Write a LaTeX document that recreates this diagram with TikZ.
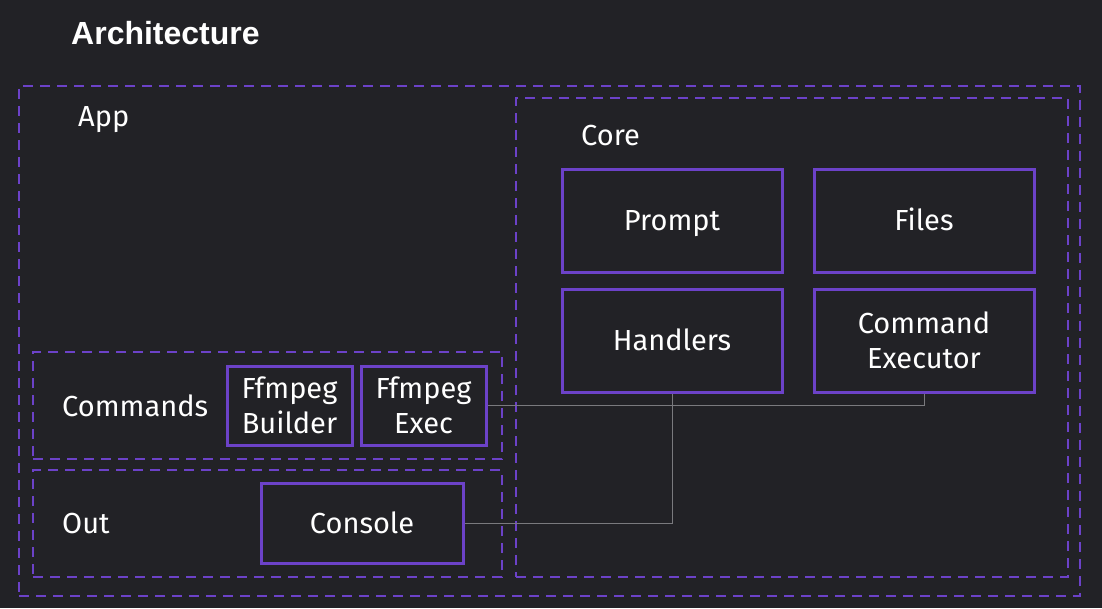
\documentclass[tikz,border=0pt]{standalone}
\usepackage{fontspec}
\setmainfont{Fira Sans}
\newfontfamily\titlefont{Liberation Sans}
\usetikzlibrary{positioning}
\definecolor{bgdark}{HTML}{222226}
\definecolor{boxpurple}{HTML}{6C42C8}
\definecolor{wiregray}{HTML}{7A7A7E}

\begin{document}
\begin{tikzpicture}[x=1pt,y=-1pt,
	groupnode/.style={rectangle,draw=boxpurple,line width=2pt,dash pattern=on 10pt off 7pt,inner sep=0pt},
	boxnode/.style={rectangle,draw=boxpurple,line width=3pt,inner sep=0pt,text=white,align=center,font=\fontsize{29}{35}\selectfont},
	onerow/.style={text height=26pt,text depth=6pt},
	labelnode/.style={anchor=base west,inner sep=0pt,text=white,font=\fontsize{29}{35}\selectfont},
	wire/.style={draw=wiregray,line width=1pt}]
	
	\fill[bgdark] (0,0) rectangle (1102,608);
	\useasboundingbox (0,0) rectangle (1102,608);
	
	\node [anchor=base west,inner sep=0pt,text=white,font=\titlefont\bfseries\fontsize{32}{36}\selectfont] (title) at (71, 44) {Architecture};
	
	% groups
	\node [groupnode, minimum width=1061pt, minimum height=510pt] (app) at (549.5, 341) {};
	\node [groupnode, minimum width=552pt, minimum height=479pt] (core) at (792, 337.5) {};
	\node [groupnode, minimum width=469pt, minimum height=107pt] (commands) at (267.5, 405.5) {};
	\node [groupnode, minimum width=469pt, minimum height=107pt] (out) at (267.5, 523.5) {};
	
	\node [labelnode] (applabel) at (78, 126) {App};
	\node [labelnode] (corelabel) at (581, 145) {Core};
	\node [labelnode] (commandslabel) at (62, 416) {Commands};
	\node [labelnode] (outlabel) at (62, 533) {Out};
	
	% core parts
	\node [boxnode, onerow, minimum width=220pt, minimum height=103pt] (prompt) at (672, 220.5) {Prompt};
	\node [boxnode, onerow, minimum width=220pt, minimum height=103pt] (files) at (924, 220.5) {Files};
	\node [boxnode, onerow, minimum width=220pt, minimum height=103pt] (handlers) at (672, 340.5) {Handlers};
	\node [boxnode, minimum width=220pt, minimum height=103pt] (cmdexec) at (924, 340.5) {Command\\Executor};
	
	% app parts
	\node [boxnode, minimum width=125pt, minimum height=79pt] (builder) at (289.5, 405.5) {Ffmpeg\\Builder};
	\node [boxnode, minimum width=125pt, minimum height=79pt] (exec) at (423.5, 405.5) {Ffmpeg\\Exec};
	\node [boxnode, onerow, minimum width=202pt, minimum height=80pt] (console) at (362, 523) {Console};
	
	\draw[wire] (exec.east) -| (cmdexec.south);
	\draw[wire] (console.east) -| (handlers.south);
\end{tikzpicture}
\end{document}
